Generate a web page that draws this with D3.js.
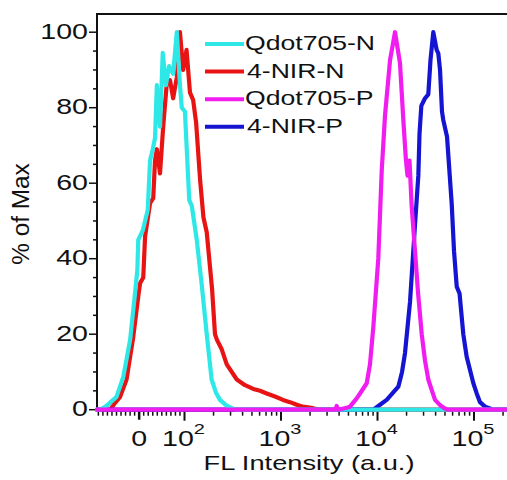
<!DOCTYPE html>
<html>
<head>
<meta charset="utf-8">
<script src="https://cdn.jsdelivr.net/npm/d3@7"></script>
<style>
  html, body { margin: 0; padding: 0; background: #fff; }
  svg { display: block; }
</style>
</head>
<body>
<svg id="chart" width="507" height="480"></svg>
<script>
// histogram points: [FL intensity (a.u.), % of max]
const qdot705N = [
  [-93, 0], [-86, 0], [-72, 1], [-50, 3.4], [-35, 8.7], [-20, 18.5], [-9, 31], [-4, 37], [-2, 45],
  [8, 47.5], [19, 53], [24, 66], [30, 69], [35, 72], [39, 86], [46, 75], [52, 94.5], [59, 86],
  [66, 91], [75, 89], [83, 100], [90, 86], [94, 80], [101, 79], [112, 55.5], [119, 54], [134, 45],
  [151, 33], [170, 20], [191, 8], [212, 4.5], [233, 2.6], [269, 1.2], [318, 0.3], [340, 0], [262144, 0]
];
const nir4N = [
  [-93, 0], [-64, 0], [-55, 1.5], [-42, 3.4], [-28, 7.9], [-13, 19.3], [-2, 30], [2, 33.5], [9, 35],
  [13, 45.8], [24, 54.7], [31, 56], [35, 66], [39, 69], [46, 62.6], [53, 75], [61, 86.5], [68, 87.3],
  [75, 82.5], [83, 88], [90, 100], [97, 90], [105, 95.3], [114, 84], [123, 82], [132, 76], [145, 61],
  [157, 51], [170, 47], [193, 32], [207, 20], [217, 18.5], [243, 16], [274, 12], [348, 8], [424, 6.5],
  [516, 5.5], [606, 5], [711, 4.3], [866, 3.5], [1049, 2.6], [1240, 2], [1455, 1.3], [1691, 0.8],
  [2147, 0.4], [2535, 0], [262144, 0]
];
const qdot705P = [
  [-93, 0], [3650, 0], [3776, 1], [3900, 0], [4797, 0.5], [5188, 0.8], [6085, 3], [6588, 4.3],
  [7727, 7], [8356, 12], [9057, 22], [10190, 40], [11066, 63.5], [11967, 78], [13487, 92.6],
  [15181, 100], [17100, 91.8], [18493, 77], [19724, 66], [20454, 62], [21464, 66], [22594, 54],
  [24471, 42], [26303, 31], [28727, 20], [31059, 13], [33590, 8], [36715, 5], [39446, 2.6],
  [44446, 1.2], [50003, 0.3], [53815, 0], [262144, 0]
];
const nir4P = [
  [-93, 0], [9057, 0], [9500, 0.4], [10617, 1.3], [12447, 2.6], [14487, 4.5], [16433, 6.1],
  [17958, 10], [19275, 15], [21727, 28.6], [24471, 49], [26485, 62], [27235, 73], [28443, 80.5],
  [31059, 82.5], [33590, 83.5], [35400, 92.6], [37844, 100], [41020, 95.3], [42658, 94.4],
  [44446, 90], [46583, 79], [48050, 76.7], [52538, 72.3], [58740, 54.5], [62086, 42], [66215, 32.6],
  [70795, 30.8], [77470, 20], [83972, 14], [90920, 10.5], [98450, 7], [106660, 4.3], [115350, 2],
  [130020, 0.8], [146530, 0.3], [157400, 0], [262144, 0]
];

const seriesNames = ["Qdot705-N", "4-NIR-N", "Qdot705-P", "4-NIR-P"];
const seriesColors = ["#2ee8e8", "#e81414", "#f01cf0", "#1414d2"];
const seriesData = [qdot705N, nir4N, qdot705P, nir4P];
const drawOrder = [1, 3, 0, 2];

const yTickLabels = [0, 20, 40, 60, 80, 100];
const xDecades = [100, 1000, 10000, 100000];

const FONT = "'Liberation Sans', Arial, sans-serif";
const SX = 1.33; // text in the source figure is stretched horizontally

const svg = d3.select("#chart");

// biexponential-style axis: linear around zero, log above 10^2
const LEFT = 97, RIGHT = 514.4, TOP = 14, BASE = 409.7;
const xLin = d3.scaleLinear().domain([-93, 100]).range([LEFT, 184.5]);
const xLog = d3.scaleLog().domain([100, 262144]).range([184.5, RIGHT]);
const x = (v) => (v < 100 ? xLin(v) : xLog(v));
const y = d3.scaleLinear().domain([0, 100]).range([BASE, 32.2]);

function stretchedText(parent, px, py, str, size, anchor, baseline) {
  return parent
    .append("text")
    .attr("transform", `translate(${px},${py}) scale(${SX},1)`)
    .attr("text-anchor", anchor || "start")
    .attr("dominant-baseline", baseline || "alphabetic")
    .attr("font-family", FONT)
    .attr("font-size", size)
    .attr("fill", "#111")
    .text(str);
}

// frame
svg.append("line")
  .attr("x1", LEFT).attr("x2", 510)
  .attr("y1", TOP).attr("y2", TOP)
  .attr("stroke", "#111").attr("stroke-width", 2);
svg.append("line")
  .attr("x1", LEFT).attr("x2", LEFT)
  .attr("y1", TOP - 1).attr("y2", BASE + 1)
  .attr("stroke", "#111").attr("stroke-width", 2);
svg.append("line")
  .attr("x1", LEFT).attr("x2", 510)
  .attr("y1", BASE + 1).attr("y2", BASE + 1)
  .attr("stroke", "#111").attr("stroke-width", 1.5);

// y ticks
const yAxis = svg.append("g").attr("class", "y-axis");
yAxis.selectAll("line.tick")
  .data(d3.range(0, 101, 5))
  .join("line")
  .attr("class", "tick")
  .attr("x1", (d) => (d % 20 === 0 ? LEFT - 8 : LEFT - 4))
  .attr("x2", LEFT)
  .attr("y1", (d) => y(d))
  .attr("y2", (d) => y(d))
  .attr("stroke", "#111")
  .attr("stroke-width", 1.5);
yTickLabels.forEach((v) => {
  stretchedText(yAxis, 88, y(v) + 1, String(v), 21.5, "end", "middle");
});

// x ticks
const xAxis = svg.append("g").attr("class", "x-axis");
const linTicks = xLin.ticks(20).filter((v) => v < 100);
const logTicks = xLog.ticks().filter((v) => x(v) <= 507);
const xTicks = linTicks.map((v) => ({ v, len: v === 0 ? 9 : 5, w: v === 0 ? 2.5 : 1.5 }))
  .concat(logTicks.map((v) => {
    const major = Math.abs(Math.log10(v) - Math.round(Math.log10(v))) < 1e-9;
    return { v, len: major ? 10 : 5, w: major ? 2 : 1.5 };
  }));
xAxis.selectAll("line.tick")
  .data(xTicks)
  .join("line")
  .attr("class", "tick")
  .attr("x1", (d) => x(d.v))
  .attr("x2", (d) => x(d.v))
  .attr("y1", BASE + 1)
  .attr("y2", (d) => BASE + 1 + d.len)
  .attr("stroke", "#111")
  .attr("stroke-width", (d) => d.w);

stretchedText(xAxis, x(0), 446, "0", 21.5, "middle");
xDecades.forEach((v) => {
  const t = stretchedText(xAxis, x(v) - 1, 446, "", 21.5, "middle");
  t.append("tspan").text("10");
  t.append("tspan").attr("dy", -12).attr("font-size", 15).text(String(Math.round(Math.log10(v))));
});

// axis titles
stretchedText(svg, 309, 470, "FL Intensity (a.u.)", 20.5, "middle");
svg.append("text")
  .attr("transform", "translate(29,214) rotate(-90) scale(1.06,1)")
  .attr("text-anchor", "middle")
  .attr("font-family", FONT)
  .attr("font-size", 23)
  .attr("fill", "#111")
  .text("% of Max");

// histograms
const line = d3.line()
  .x((d) => x(d[0]))
  .y((d) => y(d[1]));

svg.append("g")
  .attr("class", "curves")
  .selectAll("path")
  .data(drawOrder)
  .join("path")
  .attr("d", (i) => line(seriesData[i]))
  .attr("fill", "none")
  .attr("stroke", (i) => seriesColors[i])
  .attr("stroke-width", 4.2)
  .attr("stroke-linejoin", "round")
  .attr("stroke-linecap", "round");

// legend
const legend = svg.append("g").attr("class", "legend");
seriesNames.forEach((name, i) => {
  const ly = 44 + i * 27.6;
  legend.append("line")
    .attr("x1", 205).attr("x2", 244)
    .attr("y1", ly).attr("y2", ly)
    .attr("stroke", seriesColors[i])
    .attr("stroke-width", 4);
  stretchedText(legend, i % 2 === 1 ? 247 : 245, ly + 1, name, 20, "start", "middle");
});
</script>
</body>
</html>
